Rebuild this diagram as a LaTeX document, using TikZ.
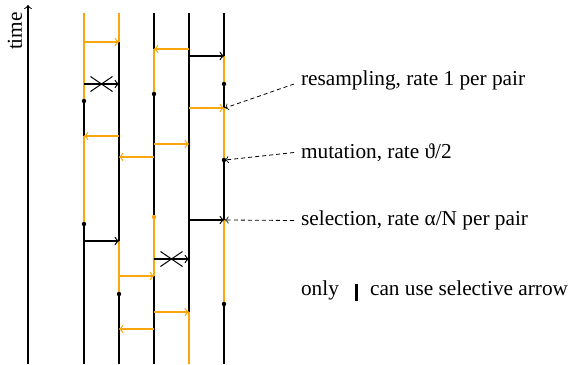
\documentclass[tikz,border=0pt]{standalone}
\usepackage{fontspec}
\setmainfont{Liberation Serif}
\begin{document}
\begin{tikzpicture}[x=1.75mm,y=1.75mm,font=\fontsize{10.6}{12.5}\selectfont]
        %colores
        \colorlet{naranja}{yellow!65!red}
        \tikzset{linea/.style={line width=0.7pt},
            flecha/.style={->,line width=0.6pt},
            nota/.style={->,line width=0.4pt,dash pattern=on 2pt off 1.5pt},
            punto/.style={fill,radius=1.1pt}}
        \useasboundingbox (0,0) rectangle (57.1,36.4);

        % Eje del tiempo
        \draw[->,line width=0.5pt] (2.8,0) -- (2.8,35.9);
        \node[rotate=90] (time) at (1.5,33.3) {time};

        % Lineas verticales
        \foreach \x in {8.4,11.9,15.4,18.9,22.4}
            \draw[linea] (\x,0) -- (\x,35.1);
        \foreach \x/\ya/\yb in {8.4/35.1/26.3,8.4/22.8/14.0,11.9/35.1/32.2,11.9/12.3/7.0,
            15.4/31.5/27.0,15.4/14.7/8.8,18.9/5.2/0,22.4/30.8/28.0,22.4/25.6/20.4,22.4/14.4/6.0}
            \draw[linea,naranja] (\x,\ya) -- (\x,\yb);

        % Flechas
        \foreach \y/\a/\b in {30.8/18.9/22.4,28.0/8.4/11.9,14.4/18.9/22.4,12.3/8.4/11.9,10.5/15.4/18.9}
            \draw[flecha] (\a,\y) -- (\b,\y);
        \foreach \y/\a/\b in {32.2/8.4/11.9,31.5/18.9/15.4,25.6/18.9/22.4,22.8/11.9/8.4,22.0/15.4/18.9,
            20.7/15.4/11.9,8.8/11.9/15.4,5.2/15.4/18.9,3.5/15.4/11.9}
            \draw[flecha,naranja] (\a,\y) -- (\b,\y);

        % Cruces
        \foreach \x/\y in {10.15/28.0,17.15/10.5}
            \draw[line width=0.5pt] (\x-1.1,\y-0.75) -- (\x+1.1,\y+0.75)
                (\x-1.1,\y+0.75) -- (\x+1.1,\y-0.75);

        % Mutaciones
        \foreach \x/\y in {8.4/26.3,22.4/28.0,15.4/27.0,22.4/20.4,8.4/14.0,11.9/7.0,22.4/6.0}
            \fill[punto] (\x,\y) circle;
        \fill[punto,naranja] (15.4,14.7) circle;

        % Leyenda
        \coordinate (resampfin) at (22.5,25.6);
        \coordinate (mutfin) at (22.5,20.4);
        \coordinate (selfin) at (22.5,14.4);
        \node[anchor=west] (resamp) at (29.4,28.4) {resampling, rate 1 per pair};
        \node[anchor=west] (mut) at (29.4,21.15) {mutation, rate ϑ/2};
        \node[anchor=west] (sel) at (29.4,14.35) {selection, rate α/N per pair};
        \node[anchor=west] (only) at (29.4,7.35)
            {only\hspace{8pt}\rule[-2.8pt]{1.5pt}{8.3pt}\hspace{6pt}can use selective arrow};
        \draw[nota] ([yshift=-2pt]resamp.west) -- (resampfin);
        \draw[nota] (mut.west) -- (mutfin);
        \draw[nota] (sel.west) -- (selfin);
    \end{tikzpicture}
\end{document}
